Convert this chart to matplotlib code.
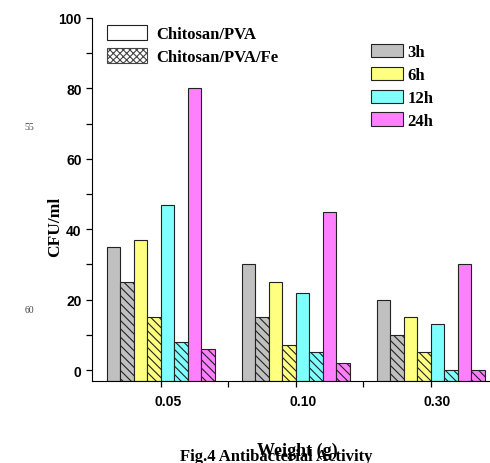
import matplotlib
matplotlib.use('Agg')
from matplotlib import pyplot as plt
from matplotlib.patches import Patch
from matplotlib.transforms import ScaledTranslation
import numpy as np

# Data
weights = ['0.05', '0.10', '0.30']
times = ['3h', '6h', '12h', '24h']
colors = ['#c0c0c0', '#ffff80', '#80ffff', '#ff80ff']
# CFU/ml per time, for each weight
cs_pva = [
    [35, 30, 20],   # 3h
    [37, 25, 15],   # 6h
    [47, 22, 13],   # 12h
    [80, 45, 30],   # 24h
]
cs_pva_fe = [
    [25, 15, 10],
    [15, 7, 5],
    [8, 5, 0],
    [6, 2, 0],
]
y_ticks = [0, 20, 40, 60, 80, 100]

serif = ['Liberation Serif', 'DejaVu Serif']
sans = ['Liberation Sans', 'DejaVu Sans']
plt.rcParams['hatch.linewidth'] = 0.8

fig = plt.figure(figsize=(4.9, 4.64), dpi=100)
ax = fig.add_axes([92 / 490, 1 - 382 / 464, 1 - 92 / 490, (382 - 19) / 464])

ymin, ymax = -3.1, 100
x = np.arange(len(weights))
w = 0.1
for i, c in enumerate(colors):
    base = x - 0.4 + 2 * i * w + w / 2
    ax.bar(base, np.array(cs_pva[i]) - ymin, w, bottom=ymin,
           color=c, edgecolor='#222222', linewidth=0.8)
    ax.bar(base + w, np.array(cs_pva_fe[i]) - ymin, w, bottom=ymin,
           color=c, edgecolor='#222222', linewidth=0.8, hatch='\\\\\\\\')

ax.set_xlim(-0.509, 2.44)
ax.set_ylim(ymin, ymax)
ax.spines['top'].set_visible(False)
ax.spines['right'].set_visible(False)
ax.spines['left'].set_bounds(ymin, ymax)

ax.set_xticks(x, weights)
ax.set_xticks([0.5, 1.5], minor=True)
ax.set_yticks(y_ticks)
ax.set_yticks(np.arange(0, 101, 10), minor=True)
ax.tick_params(which='both', direction='out', length=4.5, width=0.9)
ax.tick_params(axis='x', pad=5)
ax.tick_params(axis='y', pad=3)
for lab in ax.get_xticklabels() + ax.get_yticklabels():
    lab.set_fontfamily(sans)
    lab.set_fontweight('bold')
    lab.set_fontsize(10)
for lab in ax.get_xticklabels():
    lab.set_transform(lab.get_transform() + ScaledTranslation(0.07, 0, fig.dpi_scale_trans))

# legends
mat_handles = [Patch(facecolor='white', edgecolor='#222222', linewidth=0.8),
               Patch(facecolor='white', edgecolor='#444444', linewidth=0.8, hatch='xxxxx')]
leg1 = ax.legend(mat_handles, ['Chitosan/PVA', 'Chitosan/PVA/Fe'],
                 loc='upper left', bbox_to_anchor=(107 / 490, 1 - 26 / 464),
                 bbox_transform=fig.transFigure, frameon=False,
                 borderpad=0, borderaxespad=0, handlelength=2.4, handleheight=1.0,
                 handletextpad=0.55, labelspacing=0.35,
                 prop={'family': serif, 'weight': 'bold', 'size': 12})
ax.add_artist(leg1)
time_handles = [Patch(facecolor=c, edgecolor='#222222', linewidth=0.8) for c in colors]
ax.legend(time_handles, times, loc='upper left',
          bbox_to_anchor=(371 / 490, 1 - 45 / 464), bbox_transform=fig.transFigure,
          frameon=False, borderpad=0, borderaxespad=0, handlelength=1.9,
          handleheight=0.85, handletextpad=0.3, labelspacing=0.38,
          prop={'family': serif, 'weight': 'bold', 'size': 12})

fig.text(55 / 490, 1 - 227 / 464, 'CFU/ml', rotation=90, ha='center', va='center',
         family=serif, weight='bold', size=12.5)
fig.text(297 / 490, 1 - 451 / 464, 'Weight (g)', ha='center', va='center',
         family=serif, weight='bold', size=13)
fig.text(276 / 490, 1 - 457 / 464, 'Fig.4 Antibacterial Activity', ha='center', va='center',
         family=serif, weight='bold', size=12)
fig.text(29 / 490, 1 - 128 / 464, '55', ha='center', va='center',
         family=serif, size=7, color='#444444')
fig.text(29 / 490, 1 - 311 / 464, '60', ha='center', va='center',
         family=serif, size=7, color='#444444')

fig.savefig('out.png', dpi=100)
